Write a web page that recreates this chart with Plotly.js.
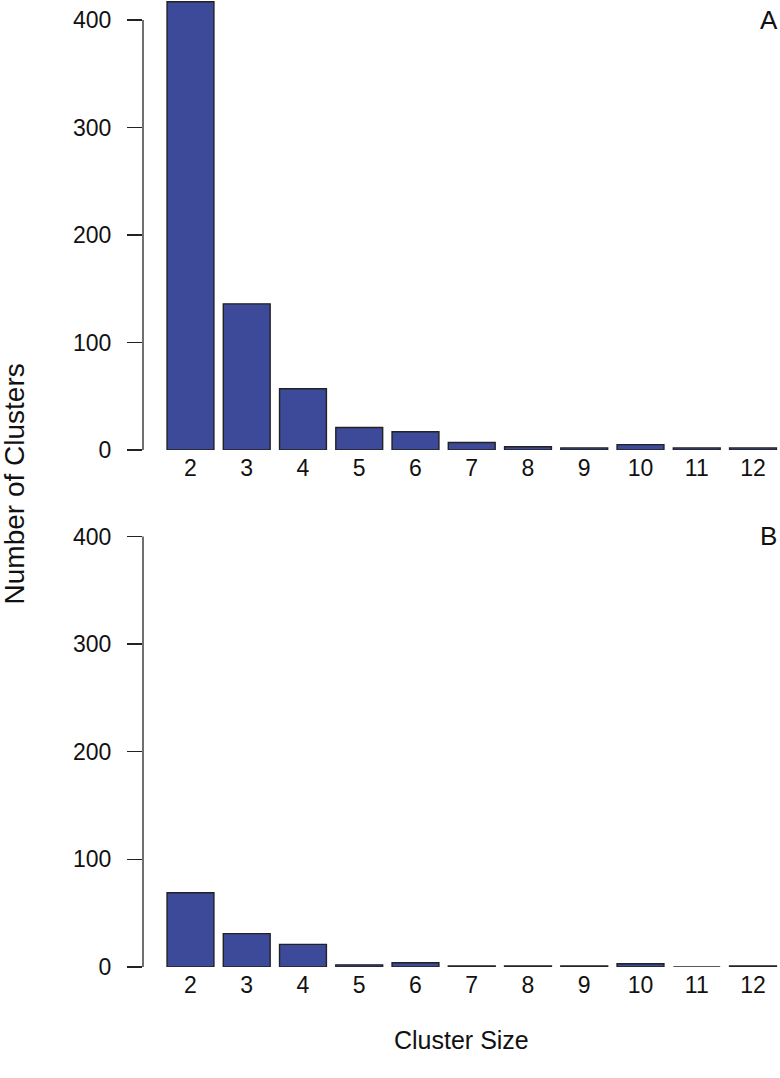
<!DOCTYPE html>
<html>
<head>
<meta charset="utf-8">
<script src="https://cdn.plot.ly/plotly-3.0.1.min.js"></script>
<style>html,body{margin:0;padding:0;background:#fff;}#chart{width:780px;height:1078px;}</style>
</head>
<body>
<div id="chart"></div>
<script>
var clusterSizes = [2, 3, 4, 5, 6, 7, 8, 9, 10, 11, 12];
var countsA = [417, 136, 57, 21, 17, 7, 3, 2, 5, 2, 2];
var countsB = [69, 31, 21, 2, 4, 1, 1, 1, 3, 0, 1];
var yTicks = [0, 100, 200, 300, 400];

var barColor = '#3d4a99';
var lineColor = '#222222';
var fontFam = 'Liberation Sans, Arial, Helvetica, sans-serif';

function barTrace(vals, xa, ya) {
  return {
    type: 'bar', x: clusterSizes, y: vals, xaxis: xa, yaxis: ya,
    width: 1/1.2,
    marker: {color: barColor, line: {color: lineColor, width: 1.4}},
    cliponaxis: false, hoverinfo: 'x+y'
  };
}

var xr = [1.156, 12.48];
var yr = [0, 418.6];
function xAxis(anchor) {
  return {
    range: xr, anchor: anchor, showgrid: false, zeroline: false, showline: false,
    tickmode: 'array', tickvals: clusterSizes, ticktext: clusterSizes.map(String),
    ticks: '', ticklabelstandoff: 2,
    tickfont: {family: fontFam, size: 23, color: '#111'}
  };
}
function yAxis(anchor, dom) {
  return {
    range: yr, domain: dom, anchor: anchor, showgrid: false, zeroline: false, showline: false,
    tickmode: 'array', tickvals: yTicks, ticks: 'outside', ticklen: 15, tickwidth: 1.3,
    tickcolor: lineColor, ticklabelstandoff: 11,
    tickfont: {family: fontFam, size: 23, color: '#111'}
  };
}

var data = [barTrace(countsA, 'x', 'y'), barTrace(countsB, 'x2', 'y2')];

var layout = {
  width: 780, height: 1078,
  margin: {l: 143, r: 0, t: 0, b: 111},
  paper_bgcolor: '#fff', plot_bgcolor: 'rgba(0,0,0,0)',
  showlegend: false, bargap: 0,
  xaxis: xAxis('y'),
  yaxis: yAxis('x', [0.5346, 1]),
  xaxis2: xAxis('y2'),
  yaxis2: yAxis('x2', [0, 0.4659]),
  shapes: [
    {type: 'line', xref: 'x domain', yref: 'y', x0: 0, x1: 0, y0: yTicks[0], y1: yTicks[yTicks.length-1], line: {color: lineColor, width: 1.3}},
    {type: 'line', xref: 'x2 domain', yref: 'y2', x0: 0, x1: 0, y0: yTicks[0], y1: yTicks[yTicks.length-1], line: {color: lineColor, width: 1.3}}
  ],
  annotations: [
    {text: 'A', xref: 'paper', yref: 'y', x: 0.982, y: 400, xanchor: 'center', yanchor: 'middle', showarrow: false, font: {family: fontFam, size: 26, color: '#111'}},
    {text: 'B', xref: 'paper', yref: 'y2', x: 0.982, y: 400, xanchor: 'center', yanchor: 'middle', showarrow: false, font: {family: fontFam, size: 26, color: '#111'}},
    {text: 'Number of Clusters', xref: 'paper', yref: 'paper', x: -0.201, y: 0.5, xanchor: 'center', yanchor: 'middle', textangle: -90, showarrow: false, font: {family: fontFam, size: 28, color: '#111'}},
    {text: 'Cluster Size', xref: 'paper', yref: 'paper', x: 0.5, y: -0.075, xanchor: 'center', yanchor: 'middle', showarrow: false, font: {family: fontFam, size: 25, color: '#111'}}
  ]
};

Plotly.newPlot('chart', data, layout, {displayModeBar: false, staticPlot: true});
</script>
</body>
</html>
